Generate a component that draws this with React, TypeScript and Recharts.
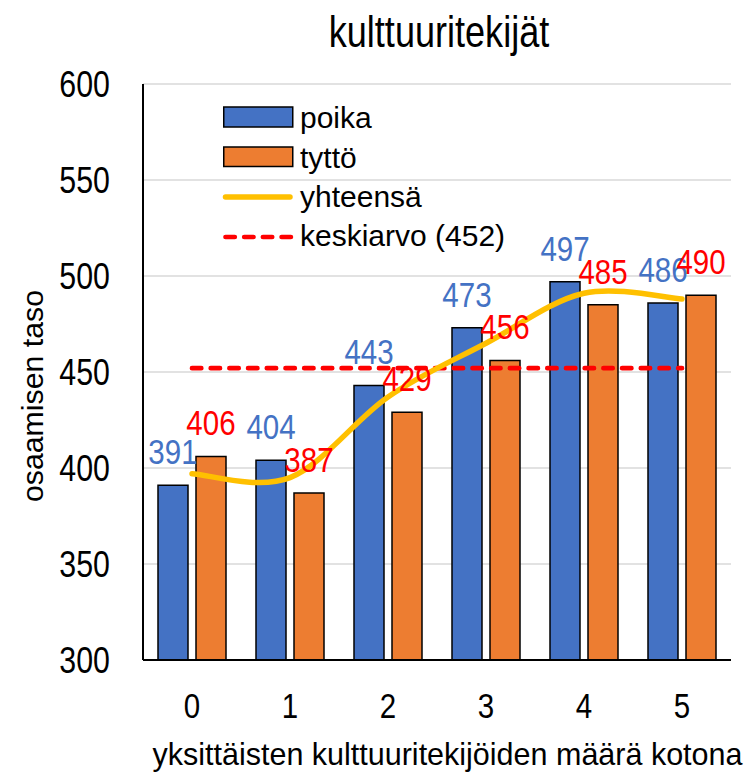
import React from 'react';
import {
  ComposedChart, Bar, Line, XAxis, YAxis, CartesianGrid, LabelList,
} from 'recharts';

const categories = ['0', '1', '2', '3', '4', '5'];
const poika = [391, 404, 443, 473, 497, 486];
const tytto = [406, 387, 429, 456, 485, 490];
const yhteensa = [397, 395, 437, 465, 491, 488];
const keskiarvo = [452, 452, 452, 452, 452, 452];
const yTicks = [300, 350, 400, 450, 500, 550, 600];

const seriesNames = { poika: 'poika', tytto: 'tyttö', yhteensa: 'yhteensä', keskiarvo: 'keskiarvo (452)' };
const chartTitle = 'kulttuuritekijät';
const xTitle = 'yksittäisten kulttuuritekijöiden määrä kotona';
const yTitle = 'osaamisen taso';

const BLUE = '#4472C4';
const ORANGE = '#ED7D31';
const YELLOW = '#FFC000';
const RED = '#FF0000';
const REG = "'Liberation Sans', Arial, sans-serif";
const NARROW_SCALE = 0.82;

const data = categories.map((c, i) => ({
  cat: c,
  poika: poika[i],
  tytto: tytto[i],
  yhteensa: yhteensa[i],
  keskiarvo: keskiarvo[i],
}));

// Excel-like smooth line (uniform Catmull-Rom through points)
const excelSmooth: any = (context: any) => {
  let pts: number[][] = [];
  return {
    areaStart() {},
    areaEnd() {},
    lineStart() { pts = []; },
    point(x: number, y: number) { pts.push([+x, +y]); },
    lineEnd() {
      if (!pts.length) return;
      context.moveTo(pts[0][0], pts[0][1]);
      for (let i = 0; i < pts.length - 1; i++) {
        const p0 = pts[i - 1] || pts[i];
        const p1 = pts[i];
        const p2 = pts[i + 1];
        const p3 = pts[i + 2] || p2;
        context.bezierCurveTo(
          p1[0] + (p2[0] - p0[0]) / 6, p1[1] + (p2[1] - p0[1]) / 6,
          p2[0] - (p3[0] - p1[0]) / 6, p2[1] - (p3[1] - p1[1]) / 6,
          p2[0], p2[1],
        );
      }
    },
  };
};

// Narrow text: regular sans compressed horizontally around its anchor point
const NarrowText = ({ x, y, size, anchor = 'middle', fill = '#000', dy, children }: any) => (
  <text
    x={x}
    y={y}
    dy={dy}
    textAnchor={anchor}
    fill={fill}
    transform={`translate(${x} ${y}) scale(${NARROW_SCALE} 1) translate(${-x} ${-y})`}
    style={{ fontFamily: REG, fontSize: size }}
  >
    {children}
  </text>
);

const YTick = (props: any) => {
  const { x, y, payload } = props;
  return <NarrowText x={x} y={y} size={37} anchor="end" dy="0.355em">{payload.value}</NarrowText>;
};

const XTick = (props: any) => {
  const { x, y, payload } = props;
  return <NarrowText x={x} y={y} size={36} anchor="middle" dy="0.71em">{payload.value}</NarrowText>;
};

const makeLabel = (dx: number, color: string) => (props: any) => {
  const { x, y, value } = props;
  if (x == null || y == null) return null;
  return <NarrowText x={x + dx} y={y - 21} size={36} fill={color}>{value}</NarrowText>;
};

const LegendBox = () => (
  <g transform="translate(223 100)">
    <rect x={0.75} y={7} width={69} height={20} fill={BLUE} stroke="#000" strokeWidth={1.5} />
    <text x={77} y={28} style={{ fontFamily: REG, fontSize: 30 }} fill="#000">{seriesNames.poika}</text>
    <rect x={0.75} y={47} width={69} height={19.5} fill={ORANGE} stroke="#000" strokeWidth={1.5} />
    <text x={77} y={67.5} style={{ fontFamily: REG, fontSize: 30 }} fill="#000">{seriesNames.tytto}</text>
    <line x1={2.5} x2={67} y1={97} y2={97} stroke={YELLOW} strokeWidth={5.5} strokeLinecap="round" />
    <text x={77} y={107} style={{ fontFamily: REG, fontSize: 30 }} fill="#000">{seriesNames.yhteensa}</text>
    <line x1={2.5} x2={69} y1={137} y2={137} stroke={RED} strokeWidth={4.7} strokeLinecap="round" strokeDasharray="9.3 9.4" />
    <text x={77} y={146} style={{ fontFamily: REG, fontSize: 30 }} fill="#000">{seriesNames.keskiarvo}</text>
  </g>
);

export default function App() {
  return (
    <div style={{ position: 'absolute', left: 0, top: 0, width: 747, height: 772, background: '#fff' }}>
      <ComposedChart
        width={747}
        height={772}
        data={data}
        margin={{ top: 84, right: 16, left: 0, bottom: 0 }}
        barCategoryGap={15}
        barGap={8}
      >
        <CartesianGrid vertical={false} stroke="#D9D9D9" strokeWidth={1.5} />
        <XAxis
          dataKey="cat"
          height={112}
          tickLine={false}
          tickSize={0}
          tickMargin={32}
          axisLine={{ stroke: '#000', strokeWidth: 2 }}
          tick={<XTick />}
        />
        <XAxis xAxisId="top" orientation="top" height={0} tick={false} tickLine={false}
          axisLine={{ stroke: '#000', strokeWidth: 2 }} />
        <YAxis
          domain={[300, 600]}
          ticks={yTicks}
          width={143}
          tickLine={false}
          tickSize={0}
          tickMargin={33}
          interval={0}
          axisLine={{ stroke: '#000', strokeWidth: 2 }}
          tick={<YTick />}
        />
        <YAxis yAxisId="right" orientation="right" width={0} domain={[300, 600]} tick={false} tickLine={false}
          axisLine={{ stroke: '#000', strokeWidth: 2 }} />
        <Bar dataKey="poika" fill={BLUE} stroke="#000" strokeWidth={1.5} isAnimationActive={false} />
        <Bar dataKey="tytto" fill={ORANGE} stroke="#000" strokeWidth={1.5} isAnimationActive={false} />
        <Line dataKey="keskiarvo" stroke={RED} strokeWidth={4.7} strokeLinecap="round" strokeDasharray="9.3 9.4"
          dot={false} activeDot={false} isAnimationActive={false} />
        <Line dataKey="yhteensa" type={excelSmooth} stroke={YELLOW} strokeWidth={5.5} strokeLinecap="round"
          dot={false} activeDot={false} isAnimationActive={false} />
        <Line dataKey="poika" stroke="none" dot={false} activeDot={false} isAnimationActive={false}>
          <LabelList dataKey="poika" content={makeLabel(-19, BLUE)} />
        </Line>
        <Line dataKey="tytto" stroke="none" dot={false} activeDot={false} isAnimationActive={false}>
          <LabelList dataKey="tytto" content={makeLabel(19, RED)} />
        </Line>
      </ComposedChart>
      <svg width={747} height={772} style={{ position: 'absolute', left: 0, top: 0, pointerEvents: 'none' }}>
        <NarrowText x={439} y={47} size={44}>{chartTitle}</NarrowText>
        <LegendBox />
        <text x={447.5} y={765} textAnchor="middle" fill="#000" style={{ fontFamily: REG, fontSize: 30.5 }}>{xTitle}</text>
        <text x={43} y={396} textAnchor="middle" fill="#000" transform="rotate(-90 43 396)"
          style={{ fontFamily: REG, fontSize: 30.3 }}>{yTitle}</text>
      </svg>
    </div>
  );
}
